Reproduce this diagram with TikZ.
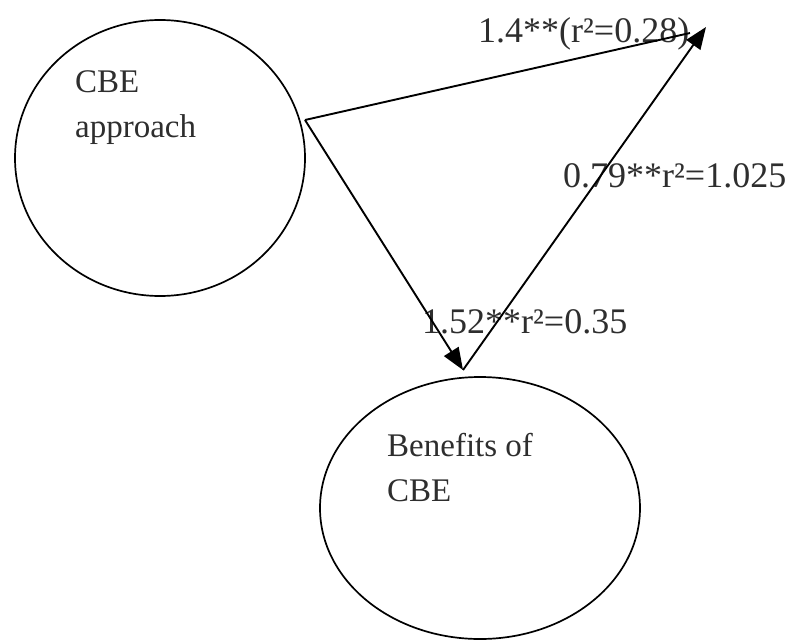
\documentclass[tikz,border=0pt]{standalone}
\usepackage{fontspec}
\setmainfont{Liberation Serif}
\usetikzlibrary{shapes.geometric,arrows.meta}
\begin{document}
\begin{tikzpicture}[x=1pt,y=-1pt,
  bubble/.style={draw,ellipse,line width=1.7pt,inner sep=0pt},
  nodetext/.style={anchor=north west,font=\fontsize{33}{45}\selectfont,text=black!82,align=left,inner sep=0pt},
  coef/.style={anchor=base west,font=\fontsize{36}{40}\selectfont,text=black!82,inner sep=0pt},
  link/.style={line width=1.9pt},
  tip/.style={-{Triangle[length=22pt,width=17pt]}}]
\useasboundingbox (0,0) rectangle (791,642);
% bubbles
\node[bubble,minimum width=290pt,minimum height=276pt] (cbe) at (160,158) {};
\node[bubble,minimum width=320pt,minimum height=262pt] (ben) at (480,508) {};
\node[nodetext] (cbetext) at (75,70) {CBE\\approach};
\node[nodetext] (bentext) at (387,433) {Benefits of\\CBE};
% labels
\node[coef] (l1) at (478,42) {1.4**(r²=0.28)};
\node[coef] (l2) at (563,187) {0.79**r²=1.025};
\node[coef] (l3) at (422,333) {1.52**r²=0.35};
% connectors
\coordinate (s) at (305,120);
\coordinate (t) at (706,27);
\coordinate (j) at (690,33);
\coordinate (b) at (463,370);
\draw[link] (s) -- (j);
\draw[link,tip] (s) -- (b);
\draw[link,tip] (b) -- (t);
\end{tikzpicture}
\end{document}
